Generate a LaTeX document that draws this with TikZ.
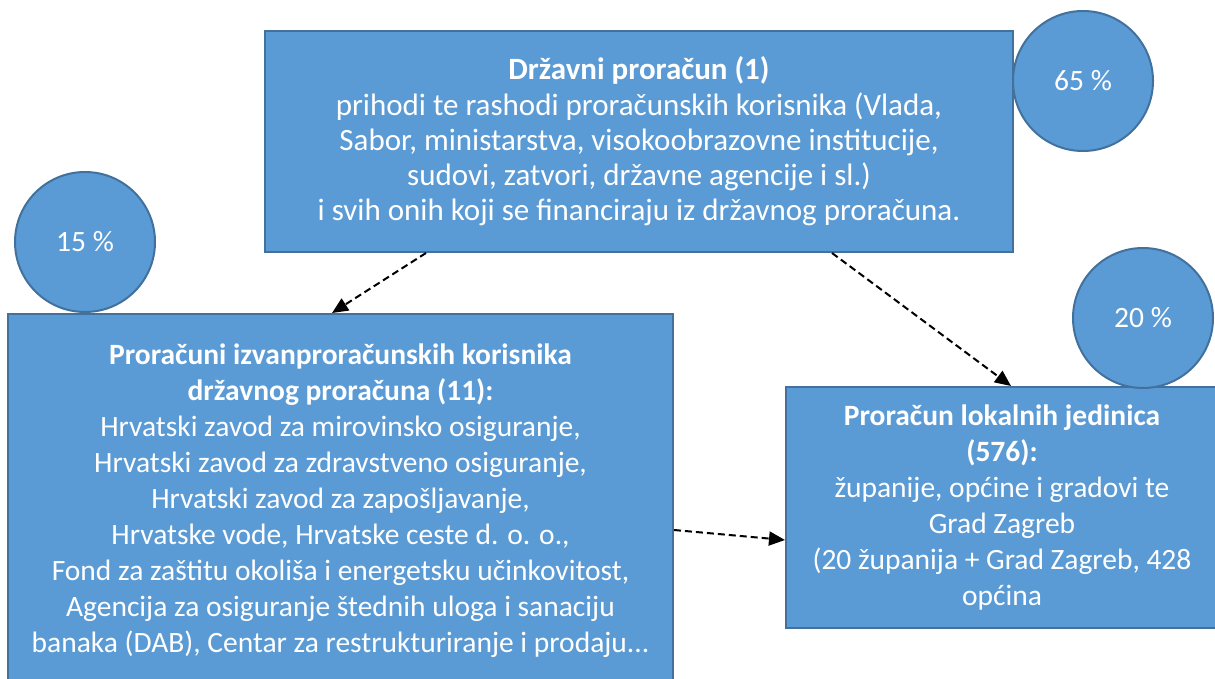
\documentclass[tikz,border=0pt]{standalone}
\usepackage{fontspec}
\setmainfont{Carlito}
\usetikzlibrary{arrows.meta}
\definecolor{boxfill}{HTML}{5B9BD5}
\definecolor{boxline}{HTML}{41719C}
\begin{document}
\begin{tikzpicture}[x=1pt,y=-1pt,
  box/.style={draw=boxline,line width=2pt,fill=boxfill,text=white,align=center,inner sep=0pt,
    font=\fontsize{29.5}{36}\selectfont},
  pct/.style={circle,draw=boxline,line width=2pt,fill=boxfill,text=white,minimum size=140pt,inner sep=0pt,
    font=\fontsize{29.5}{36}\selectfont},
  link/.style={draw=black,line width=2pt,dash pattern=on 7pt off 4pt,-{Triangle[length=16pt,width=14pt]}}]
\useasboundingbox (0,0) rectangle (1215,679);
\begin{scope}
\clip (0,0) rectangle (1215,679);
\node[box,minimum width=748pt,minimum height=221pt,font=\fontsize{31}{35.3}\selectfont] (top) at (639,141.5)
  {\textbf{Državni proračun (1)}\\
   prihodi te rashodi proračunskih korisnika (Vlada,\\
   Sabor, ministarstva, visokoobrazovne institucije,\\
   sudovi, zatvori, državne agencije i sl.)\\
   i svih onih koji se financiraju iz državnog proračuna.};
\node[box,minimum width=665pt,minimum height=374pt] (left) at (340.5,501)
  {\textbf{Proračuni izvanproračunskih korisnika}\\
   \textbf{državnog proračuna (11):}\\
   Hrvatski zavod za mirovinsko osiguranje,\\
   Hrvatski zavod za zdravstveno osiguranje,\\
   Hrvatski zavod za zapošljavanje,\\
   Hrvatske vode, Hrvatske ceste d. o. o.,\\
   Fond za zaštitu okoliša i energetsku učinkovitost,\\
   Agencija za osiguranje štednih uloga i sanaciju\\
   banaka (DAB), Centar za restrukturiranje i prodaju...};
\node[box,minimum width=432pt,minimum height=241pt] (right) at (1002,507.5)
  {\textbf{Proračun lokalnih jedinica}\\
   \textbf{(576):}\\
   županije, općine i gradovi te\\
   Grad Zagreb\\
   (20 županija + Grad Zagreb, 428\\
   općina};
\node[pct] (p65) at (1083,81) {65 \%};
\node[pct] (p15) at (85,242) {15 \%};
\node[pct] (p20) at (1143,318) {20 \%};
\draw[link] ([xshift=162pt]top.south west) -- ([xshift=325pt]left.north west);
\draw[link] ([xshift=568pt]top.south west) -- ([xshift=226pt]right.north west);
\draw[link] ([yshift=-29pt]left.east) -- ([yshift=-32.5pt]right.west);
\end{scope}
\end{tikzpicture}
\end{document}
